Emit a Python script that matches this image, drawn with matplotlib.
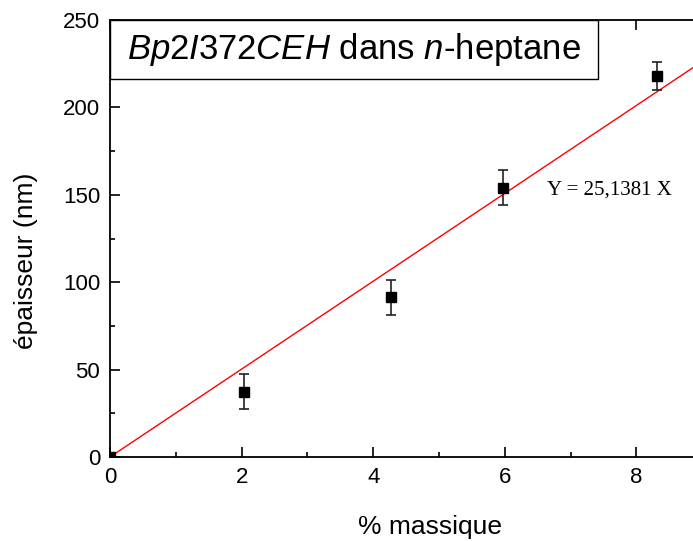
import numpy as np
import matplotlib
matplotlib.use("Agg")
import matplotlib.pyplot as plt
from matplotlib.patches import Rectangle
from matplotlib.ticker import MultipleLocator

# mass fraction (%) vs film thickness (nm)
mass_pct = [0.0, 2.04, 4.27, 5.98, 8.32]
thickness = [0.0, 37.4, 91.5, 154.0, 218.0]
thickness_err = [0.0, 10.0, 10.0, 10.0, 8.0]
slope = 25.1381

plt.rcParams["font.family"] = ["Liberation Sans", "DejaVu Sans"]
plt.rcParams["mathtext.fontset"] = "custom"
plt.rcParams["mathtext.rm"] = "Liberation Sans"
plt.rcParams["mathtext.it"] = "Liberation Sans:italic"

fig = plt.figure(figsize=(6.93, 5.41), dpi=100)
ax = fig.add_axes([110 / 693, 84 / 541, 583 / 693, 437 / 541])

x_max = 583 / 65.8
ax.set_xlim(0, x_max)
ax.set_ylim(0, 250)

# linear fit through origin
fit_x = np.array([0, x_max])
ax.plot(fit_x, slope * fit_x, color="red", lw=1.0, zorder=2)

ax.errorbar(mass_pct, thickness, yerr=thickness_err, fmt="s", color="black",
            ms=7.2, ecolor="#222222", elinewidth=1.2, capsize=3.5, capthick=1.2,
            zorder=3)

ax.text(6.64, 152.7, "Y = 25,1381 X", family="Liberation Serif", fontsize=15,
        va="center", ha="left")

# title box in upper left corner
box = Rectangle((0, 0.865), 0.837, 0.135, transform=ax.transAxes,
                facecolor="white", edgecolor="black", lw=1.0, zorder=4)
ax.add_patch(box)
ax.text(0.4177, 0.932, r"$\it{Bp2I372CEH}$ dans $\it{n}$-heptane",
        transform=ax.transAxes, ha="center", va="center", fontsize=25, zorder=5)

ax.spines["right"].set_visible(False)
for s in ("left", "bottom", "top"):
    ax.spines[s].set_linewidth(1.3)

ax.xaxis.set_major_locator(MultipleLocator(2))
ax.xaxis.set_minor_locator(MultipleLocator(1))
ax.yaxis.set_major_locator(MultipleLocator(50))
ax.yaxis.set_minor_locator(MultipleLocator(25))
ax.tick_params(which="both", direction="in", top=True, right=False,
               labelsize=16, width=1.2, pad=7)
ax.tick_params(which="major", length=7)
ax.tick_params(which="minor", length=3.6)

ax.set_xlabel("% massique", fontsize=19)
ax.set_ylabel("épaisseur (nm)", fontsize=19)
ax.xaxis.set_label_coords(0.549, -0.132)
ax.yaxis.set_label_coords(-0.1235, 0.4485)

fig.savefig("out.png", dpi=100)
